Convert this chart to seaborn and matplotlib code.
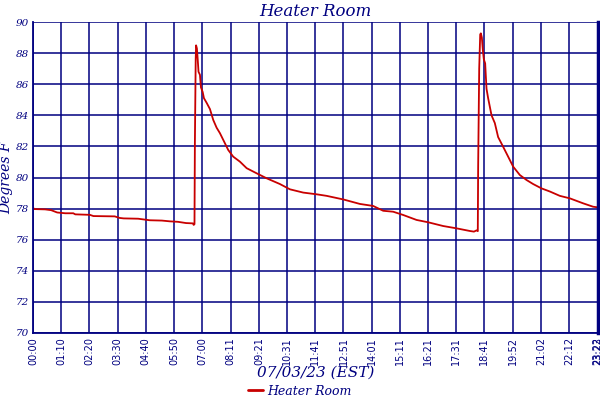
import matplotlib
matplotlib.use("Agg")
import matplotlib.pyplot as plt
import seaborn as sns
import pandas as pd

# data (minutes after midnight, degrees F)
minutes = [0, 2, 30, 45, 60, 80, 100, 105, 141, 150, 203, 215, 225, 261, 290, 320, 340, 360,
           380, 397, 399, 401, 402, 404, 405, 407, 409, 411, 414.6, 417, 421.3, 424.5, 431.2,
           439.4, 447.6, 456, 464.2, 476.6, 484.8, 497.2, 513.8, 530.5, 555.3, 580.1, 613.1,
           638, 671, 704.2, 729.1, 770.3, 811.7, 844.7, 869.6, 894.4, 919.2, 952.5, 981.3,
           1018.5, 1051.8, 1084.8, 1095, 1101.4, 1104.5, 1105.4, 1108, 1110.5, 1112.1, 1114.6,
           1117, 1119.5, 1122.8, 1124.5, 1126.2, 1130.2, 1134.4, 1138.6, 1146.8, 1155,
           1167.4, 1179.9, 1192.3, 1208.9, 1225.5, 1241.9, 1262.7, 1283.4, 1308.2, 1333,
           1366, 1390.9, 1403]
temps = [78.1, 77.97, 77.95, 77.9, 77.75, 77.7, 77.7, 77.63, 77.6, 77.52, 77.5, 77.4, 77.37,
         77.35, 77.25, 77.23, 77.18, 77.15, 77.07, 77.05, 76.95, 77.0, 82.2, 87.6, 88.5, 88.3,
         87.6, 86.8, 86.6, 85.8, 85.5, 85.1, 84.8, 84.4, 83.7, 83.2, 82.85, 82.2, 81.77, 81.34,
         81.02, 80.6, 80.27, 79.95, 79.58, 79.24, 79.03, 78.92, 78.82, 78.59, 78.3, 78.17, 77.86,
         77.8, 77.59, 77.27, 77.12, 76.88, 76.73, 76.56, 76.52, 76.6, 76.55, 80.7, 87.0, 89.2,
         89.27, 89.0, 88.2, 87.6, 87.34, 86.5, 85.7, 85.1, 84.55, 84.0, 83.5, 82.6, 81.98,
         81.34, 80.7, 80.16, 79.84, 79.58, 79.3, 79.1, 78.82, 78.66, 78.34, 78.12, 78.08]

tick_minutes = [0, 70, 140, 210, 280, 350, 420, 491, 561, 631, 701, 771, 841, 911, 981,
                1051, 1121, 1192, 1262, 1332, 1402, 1403]
tick_labels = ["00:00", "01:10", "02:20", "03:30", "04:40", "05:50", "07:00", "08:11",
               "09:21", "10:31", "11:41", "12:51", "14:01", "15:11", "16:21", "17:31",
               "18:41", "19:52", "21:02", "22:12", "23:22", "23:23"]
y_ticks = [70, 72, 74, 76, 78, 80, 82, 84, 86, 88, 90]

series_name = "Heater Room"
df = pd.DataFrame({"minute": minutes, "temp": temps, "series": series_name})

sns.set_style("white")
plt.rcParams["font.family"] = ["DejaVu Serif"]
navy = "#000080"
red = "#C80000"

fig = plt.figure(figsize=(6, 4), dpi=100)
ax = fig.add_axes([33 / 600, 67 / 400, 565 / 600, 311 / 400])

sns.lineplot(data=df, x="minute", y="temp", hue="series", palette=[red],
             linewidth=1.3, ax=ax, legend=False, estimator=None, sort=False)

ax.set_xlim(0, 1403)
ax.set_ylim(70, 90)
ax.set_xticks(tick_minutes)
ax.set_xticklabels(tick_labels, rotation=90, fontsize=7, color=navy,
                   family="DejaVu Sans")
ax.set_yticks(y_ticks)
ax.set_yticklabels([str(v) for v in y_ticks], fontsize=7.5, style="italic", color=navy)
ax.tick_params(axis="both", length=0, pad=3)
ax.grid(True, color=navy, linewidth=1.1)
ax.set_axisbelow(True)
for s in ["left", "bottom"]:
    ax.spines[s].set_color(navy)
    ax.spines[s].set_linewidth(1.3)
ax.spines["top"].set_visible(False)
ax.spines["right"].set_color(navy)
ax.spines["right"].set_linewidth(2.5)

ax.set_title("Heater Room", fontsize=12, style="italic", color=navy, pad=4)
ax.set_xlabel("07/03/23 (EST)", fontsize=11, style="italic", color=navy, labelpad=0)
ax.set_ylabel("Degrees F", fontsize=10, style="italic", color=navy, labelpad=2)

handle = plt.Line2D([], [], color=red, linewidth=2)
fig.legend([handle], [series_name], loc="center", bbox_to_anchor=(0.5, 0.022),
           frameon=False, prop={"style": "italic", "size": 9},
           handlelength=1.2, handletextpad=0.3, labelcolor=navy)

fig.savefig("out.png", dpi=100)
